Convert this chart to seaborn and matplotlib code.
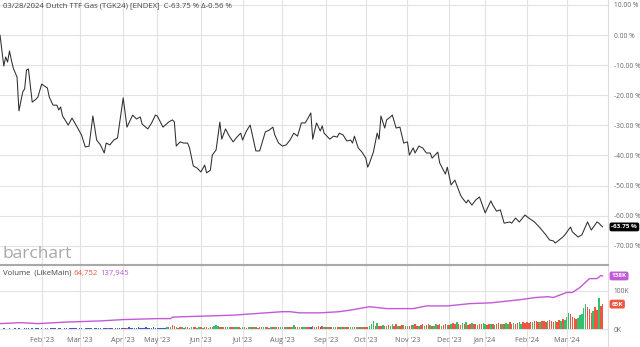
import numpy as np
import pandas as pd
import matplotlib
matplotlib.use("Agg")
import matplotlib.pyplot as plt
import matplotlib.transforms as mtransforms
import seaborn as sns

sns.set_style("white")
plt.rcParams['font.family'] = ['Open Sans', 'DejaVu Sans']

# ---------------- data ----------------
holidays = ['2023-04-07', '2023-04-10', '2023-12-25', '2023-12-26', '2024-01-01']

# price: session index (trading day since 2023-01-02) and % change
price_session = [0, 2, 3, 4, 5, 6, 7, 9, 10, 12, 13, 14, 15, 17, 19, 20, 22, 25, 26, 28,
                 30, 31, 32, 33, 36, 38, 41, 43, 45, 47, 49, 51, 53, 55, 56, 58, 60, 62, 65, 67,
                 70, 72, 74, 75, 78, 80, 82, 83, 86, 89, 91, 92, 93, 95, 97, 99, 100, 102, 104, 106,
                 108, 109, 111, 112, 114, 116, 117, 119, 121, 123, 125, 127, 128, 130, 132, 135, 137, 140, 142, 144,
                 145, 147, 149, 151, 153, 155, 157, 159, 161, 162, 164, 165, 167, 169, 170, 171, 173, 174, 176, 178,
                 179, 181, 183, 185, 186, 187, 189, 191, 193, 194, 195, 197, 199, 200, 201, 203, 204, 206, 207, 209,
                 211, 213, 215, 216, 218, 219, 221, 223, 225, 227, 228, 231, 232, 235, 236, 238, 240, 243, 244, 246,
                 247, 249, 251, 253, 256, 259, 260, 262, 264, 266, 269, 270, 272, 274, 277, 279, 282, 285, 288, 290,
                 292, 293, 297, 298, 301, 302, 305, 307, 310, 312, 315, 316, 317, 318]
price_pct = [0.0, -10.3, -7.3, -9.0, -5.3, -8.3, -11.0, -14.0, -25.2, -18.9, -17.9, -11.6, -11.3, -22.3, -21.3, -20.6, -16.3, -17.6, -20.6, -23.3,
             -23.3, -24.9, -23.9, -26.9, -29.9, -27.6, -30.9, -33.2, -37.2, -36.9, -26.9, -34.9, -36.5, -39.2, -35.9, -36.5, -34.9, -34.2, -20.9, -30.6,
             -26.6, -27.9, -27.2, -29.6, -31.2, -29.2, -26.6, -26.9, -30.6, -28.9, -28.2, -28.9, -36.9, -35.5, -35.9, -35.9, -37.5, -43.5, -44.2, -45.5,
             -43.2, -45.8, -44.9, -39.9, -38.2, -28.9, -34.6, -31.2, -33.6, -35.5, -33.9, -32.6, -34.9, -31.9, -29.9, -38.5, -38.5, -32.2, -31.6, -30.6,
             -33.2, -35.9, -36.9, -36.5, -34.9, -32.6, -33.6, -29.2, -29.2, -28.2, -25.9, -34.6, -29.2, -31.9, -30.2, -32.6, -33.9, -34.6, -33.6, -33.9,
             -32.6, -33.2, -35.2, -34.9, -35.9, -33.6, -37.5, -38.9, -40.9, -43.9, -42.5, -38.9, -32.6, -34.6, -26.9, -30.9, -28.2, -27.2, -26.6, -30.9,
             -30.6, -35.9, -35.5, -39.9, -37.5, -39.2, -36.9, -37.5, -39.2, -39.2, -40.9, -38.9, -42.5, -46.2, -43.9, -49.8, -48.2, -53.2, -54.2, -55.8,
             -54.8, -56.5, -54.8, -53.8, -59.1, -55.1, -56.5, -58.5, -58.1, -62.5, -62.1, -62.5, -60.8, -62.1, -59.8, -60.8, -62.1, -64.1, -66.4, -68.1,
             -68.4, -69.1, -67.1, -66.4, -63.8, -65.4, -67.1, -66.4, -62.1, -64.8, -62.1, -62.5, -63.19, -63.75]

# open interest (thousands)
oi_session = [0, 11, 20, 35, 53, 65, 83, 90, 91, 104, 123, 149, 153, 158, 169, 179, 186, 195, 204, 218,
              225, 236, 248, 259, 274, 283, 289, 292, 299, 302, 306, 311, 315, 317, 318]
oi_k = [14, 16.5, 14, 18, 21, 24.5, 27, 27, 31, 33, 36, 45, 45, 42, 42, 45, 50, 58, 53, 53,
        60, 60, 66, 68, 76, 82, 84, 82, 95, 95, 108, 131, 131, 139, 137.9]

# daily volume (thousands), one list per month, Jan '23 .. Mar '24
vol_k_by_month = [
    [1, 1, 2, 1, 1, 2, 1, 1, 2, 1, 2, 1, 1, 2, 3, 2, 1, 2, 1, 2, 2, 1],
    [2, 1, 2, 2, 1, 2, 3, 2, 1, 2, 2, 1, 2, 2, 1, 2, 3, 2, 2, 1],
    [2, 2, 1, 2, 3, 2, 2, 1, 2, 2, 3, 2, 1, 2, 2, 3, 2, 2, 1, 2, 2, 3, 2],
    [3, 2, 3, 4, 2, 3, 3, 2, 4, 3, 2, 3, 4, 3, 2, 3, 4, 3],
    [3, 2, 3, 2, 3, 4, 6, 5, 10, 7, 4, 3, 5, 4, 3, 4, 5, 3, 4, 6, 4, 3, 5],
    [5, 3, 4, 6, 3, 4, 5, 7, 11, 8, 4, 5, 4, 4, 6, 6, 5, 4, 6, 5, 4, 3],
    [4, 5, 3, 4, 6, 4, 5, 4, 3, 5, 4, 6, 4, 5, 3, 4, 5, 6, 4, 5, 4],
    [5, 4, 6, 5, 4, 5, 10, 4, 6, 5, 4, 6, 5, 4, 6, 5, 7, 6, 5, 9, 5, 7, 6],
    [5, 6, 4, 5, 6, 4, 5, 6, 5, 4, 6, 5, 4, 5, 6, 4, 5, 6, 5, 6, 5],
    [5, 6, 8, 12, 22, 9, 15, 8, 7, 10, 8, 9, 10, 9, 12, 8, 14, 9, 7, 10, 11, 8],
    [9, 7, 10, 11, 12, 9, 8, 11, 13, 7, 10, 12, 11, 9, 8, 12, 10, 14, 9, 11, 13, 10],
    [11, 14, 16, 12, 18, 13, 11, 15, 12, 17, 10, 13, 16, 12, 14, 10, 13, 12, 15],
    [12, 11, 13, 12, 14, 11, 13, 15, 12, 14, 13, 16, 12, 18, 14, 15, 13, 16, 17, 14, 19, 16],
    [17, 16, 19, 18, 20, 22, 17, 19, 21, 20, 18, 22, 24, 20, 17, 21, 19, 24, 22, 25, 23],
    [30, 42, 38, 30, 28, 26, 28, 36, 40, 55, 64, 58, 52, 42, 47, 57, 50, 80, 60, 64.752],
]
vol_dir_by_month = [
    "BBBBB BBRBB BBBBB BGBBB BB",
    "BBBRB BBBBB BRBBB BBBBB",
    "BBBBB BBGBB BBBBB RBBBB BBB",
    "BBRBB BBBBB BBBBB BBB",
    "BBBBB GRGRR GRRGR GRRGR RGG",
    "RGRRG RGGGG RRGRG GRRGG RG",
    "GRRGG RGRGR RGGRR GRGRR G",
    "GRGRR GGRRG RGGRR BRGRR BRG",
    "RGRRG GRRGR GRRGG RRGRG R",
    "RRGGG RGRRG RGRGG RRGRR GR",
    "GRRGR RGRRG RRGRG GRRGR RG",
    "RGRRG RRGRG RRGRR GRRG",
    "GRRGR GRRRG RGGRR GRRGG RR",
    "RRRGR RRGRR RGRRR GRRGR G",
    "GGRRR RGGGG GRRRG RRGRR",
]

title = "03/28/2024 Dutch TTF Gas (TGK24) [ENDEX]  C-63.75 % \u0394-0.56 %"
price_ticks = [10, 0, -10, -20, -30, -40, -50, -60, -70]

# ---------------- calendar ----------------
cal = pd.bdate_range('2023-01-02', '2024-03-28')
cal = cal[~cal.isin(pd.to_datetime(holidays))]
month_first = [i for i in range(1, len(cal)) if cal[i].month != cal[i - 1].month]
month_names = [cal[i].strftime("%b '%y") for i in month_first]

vol = [v for m in vol_k_by_month for v in m]
dirs = [c for m in vol_dir_by_month for c in m.replace(" ", "")]
vdf = pd.DataFrame({'session': np.arange(len(vol)), 'vol': vol, 'dir': dirs})

# ---------------- figure ----------------
W, H = 640, 347
fig = plt.figure(figsize=(W / 100, H / 100), dpi=100)
ax = fig.add_axes([0, 1 - 265 / H, 608 / W, 265 / H])
axv = fig.add_axes([0, 0, 608 / W, 82 / H])

grid_c = '#e2e2e2'
lab_c = '#666666'
purple = '#c25ad8'
red = '#f1543f'
green = '#34bf6c'
blue = '#3a5fc8'
small = 4.8

# price line
sns.lineplot(x=price_session, y=price_pct, ax=ax, color='#2e2e2e', linewidth=0.75)
ax.set_xlim(0, 320.8)
ax.set_ylim(-76.4, 11.63)
ax.set_yticks(price_ticks)
ax.set_yticklabels([f"{v:.2f} %" for v in price_ticks])
ax.yaxis.tick_right()
ax.set_xticks(month_first)
ax.set_xticklabels([])
ax.tick_params(axis='both', length=0, labelsize=small, colors=lab_c, pad=4)
ax.grid(True, color=grid_c, linewidth=0.8)
ax.set_xlabel('')
ax.set_ylabel('')
for s in ['top', 'left', 'bottom']:
    ax.spines[s].set_visible(False)
ax.spines['right'].set_color('#dcdcdc')
ax.spines['right'].set_linewidth(0.8)

ax.annotate("-63.75 %", xy=(1.0, price_pct[-1]),
            xycoords=mtransforms.blended_transform_factory(ax.transAxes, ax.transData),
            xytext=(2.5, 0), textcoords='offset points', ha='left', va='center',
            fontsize=4.6, color='white', fontweight='bold', annotation_clip=False,
            bbox=dict(boxstyle='round,pad=0.3', fc='black', ec='none'))

# volume panel
pal = {'G': green, 'R': red, 'B': blue}
sns.histplot(data=vdf, x='session', weights='vol', hue='dir', palette=pal, discrete=True,
             shrink=0.8, multiple='layer', element='bars', fill=True, alpha=1, linewidth=0,
             legend=False, ax=axv)
sns.lineplot(x=oi_session, y=oi_k, ax=axv, color=purple, linewidth=1.0)
axv.set_xlim(0, 320.8)
axv.set_ylim(-46.8, 166.4)
axv.set_yticks([0, 100])
axv.set_yticklabels(['0K', '100K'])
axv.yaxis.tick_right()
axv.set_xticks(month_first)
axv.set_xticklabels([])
axv.tick_params(axis='both', length=0, labelsize=small, colors=lab_c, pad=4)
axv.grid(True, color=grid_c, linewidth=0.8)
axv.set_axisbelow(True)
axv.set_xlabel('')
axv.set_ylabel('')
for s in ['left', 'bottom']:
    axv.spines[s].set_visible(False)
axv.spines['top'].set_color('#a9a9a9')
axv.spines['top'].set_linewidth(1.5)
axv.spines['right'].set_color('#dcdcdc')
axv.spines['right'].set_linewidth(0.8)

bt = mtransforms.blended_transform_factory(axv.transData, axv.transAxes)
for pos, name in zip(month_first, month_names):
    axv.text(pos, 7 / 82, name, transform=bt, ha='center', va='center',
             fontsize=5.2, color=lab_c)

bl = mtransforms.blended_transform_factory(axv.transAxes, axv.transData)
axv.annotate("138K", xy=(1.0, oi_k[-1]), xycoords=bl, xytext=(2.5, 0), textcoords='offset points',
             ha='left', va='center', fontsize=4.6, color='white', fontweight='bold',
             annotation_clip=False, bbox=dict(boxstyle='round,pad=0.3', fc=purple, ec='none'))
axv.annotate("65K", xy=(1.0, vol[-1]), xycoords=bl, xytext=(2.5, 0), textcoords='offset points',
             ha='left', va='center', fontsize=4.6, color='white', fontweight='bold',
             annotation_clip=False, bbox=dict(boxstyle='round,pad=0.3', fc=red, ec='none'))

# header texts
fig.text(3 / W, 1 - 5.5 / H, title, fontsize=5.6, color='#444444', ha='left', va='center')
fig.text(2 / W, 1 - 254 / H, "barchart", fontsize=12.5, color='#a9a9a9', ha='left', va='center')
t1 = fig.text(3 / W, 1 - 273 / H, "Volume  (LikeMain)", fontsize=5.6, color='#444444',
              ha='left', va='center')
t2 = fig.text(0, 0, "64,752", fontsize=5.6, color=red, ha='left', va='center')
t3 = fig.text(0, 0, "137,945", fontsize=5.6, color=purple, ha='left', va='center')
fig.canvas.draw()
r = fig.canvas.get_renderer()
e1 = t1.get_window_extent(r)
t2.set_position(((e1.x1 + 2) / W, 1 - 273 / H))
e2 = t2.get_window_extent(r)
t3.set_position(((e2.x1 + 3) / W, 1 - 273 / H))

fig.savefig("out.png", dpi=100)
